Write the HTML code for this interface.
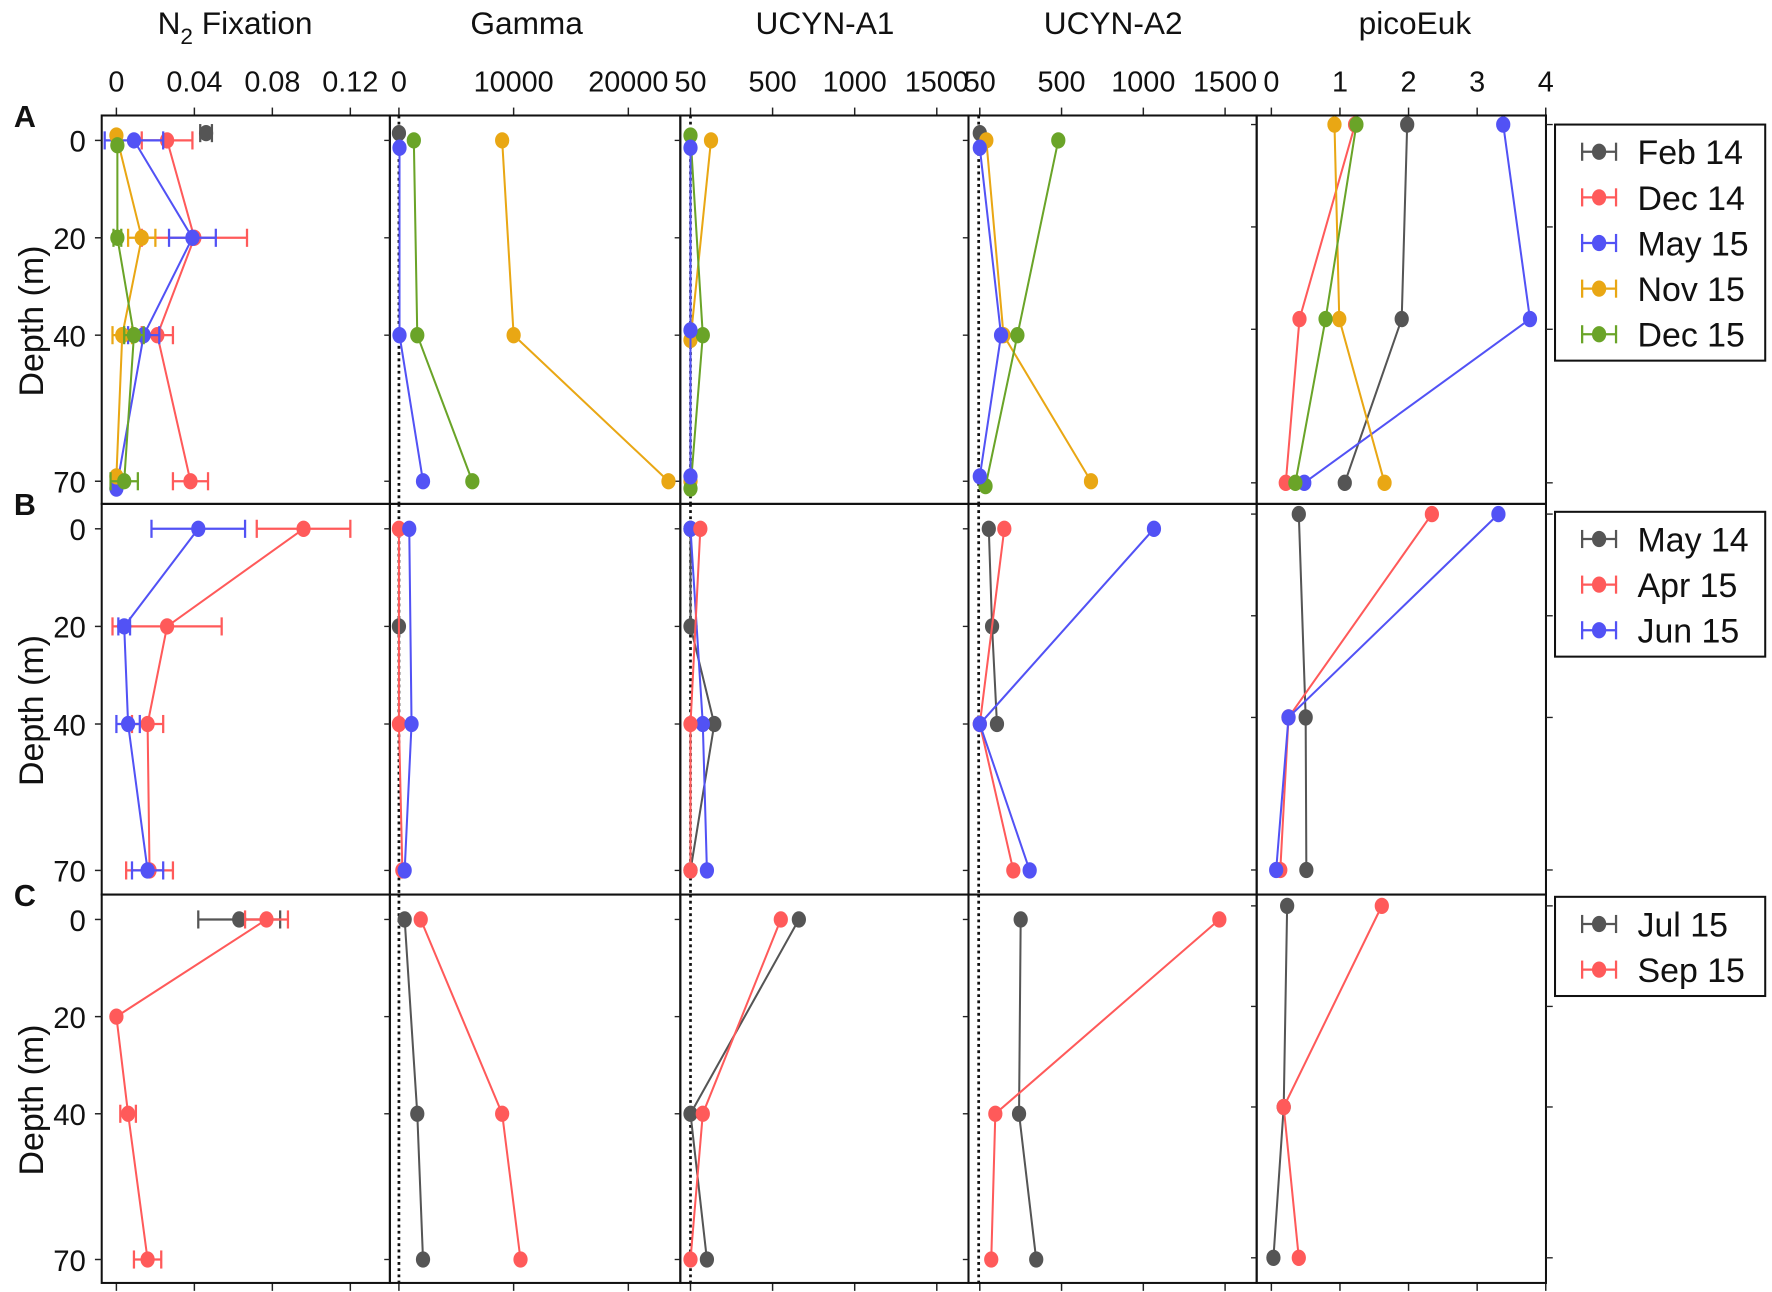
<!DOCTYPE html>
<html><head><meta charset="utf-8">
<style>
html,body{margin:0;padding:0;background:#fff;}
svg{display:block;}
text{font-family:"Liberation Sans",Arial,sans-serif;fill:#111;}
</style></head>
<body>
<svg id="chart" width="1772" height="1292" viewBox="0 0 1568 1141" preserveAspectRatio="none" xmlns="http://www.w3.org/2000/svg">
<g id="layer"></g>
</svg>
<script>
// ---------- data ----------
const colTitles = ['N2 Fixation','Gamma','UCYN-A1','UCYN-A2','picoEuk'];
const n2Ticks = [0,0.04,0.08,0.12];
const gammaTicks = [0,10000,20000];
const a1Ticks = [0,500,1000,1500];
const a1TickLabels = ['50','500','1000','1500'];
const a2Ticks = [0,500,1000,1500];
const a2TickLabels = ['50','500','1000','1500'];
const picoTicks = [0,1,2,3,4];
const depthTicks = [0,20,40,70];

const rowALegend = ['Feb 14','Dec 14','May 15','Nov 15','Dec 15'];
const rowBLegend = ['May 14','Apr 15','Jun 15'];
const rowCLegend = ['Jul 15','Sep 15'];

// each series: [depth, value, error]
// Row A
const A_n2_Feb14=[[-1.5,0.046,0.003]];
const A_n2_Dec14=[[0,0.026,0.013],[20,0.040,0.027],[40,0.021,0.008],[70,0.038,0.009]];
const A_n2_May15=[[0,0.009,0.015],[20,0.039,0.012],[40,0.014,0.008],[71.5,0.0,0]];
const A_n2_Nov15=[[-1,0.0,0],[20,0.013,0.007],[40,0.003,0.005],[69,0.0,0]];
const A_n2_Dec15=[[1,0.0005,0],[20,0.0005,0.002],[40,0.009,0.005],[70,0.004,0.007]];
const A_gm_Feb14=[[-1.5,0]];
const A_gm_May15=[[1.5,50],[40,50],[70,2100]];
const A_gm_Nov15=[[0,9000],[40,10000],[70,23500]];
const A_gm_Dec15=[[0,1300],[40,1600],[70,6400]];
const A_a1_May15=[[1.5,0],[39,0],[69,0]];
const A_a1_Nov15=[[0,125],[41,0],[70,0]];
const A_a1_Dec15=[[-1,0],[40,75],[71.5,0]];
const A_a2_Feb14=[[-1.5,0]];
const A_a2_May15=[[1.5,0],[40,130],[69,0]];
const A_a2_Nov15=[[0,40],[40,145],[70,680]];
const A_a2_Dec15=[[0,480],[40,230],[71,35]];
const A_pe_Feb14=[[0,1.98],[38,1.9],[70,1.07]];
const A_pe_Dec14=[[0,1.22],[38,0.41],[70,0.21]];
const A_pe_May15=[[0,3.38],[38,3.77],[70,0.48]];
const A_pe_Nov15=[[0,0.92],[38,0.99],[70,1.65]];
const A_pe_Dec15=[[0,1.24],[38,0.79],[70,0.35]];
// Row B
const B_n2_Apr15=[[0,0.096,0.024],[20,0.026,0.028],[40,0.016,0.008],[70,0.017,0.012]];
const B_n2_Jun15=[[0,0.042,0.024],[20,0.004,0.003],[40,0.006,0.006],[70,0.016,0.008]];
const B_gm_May14=[[20,0]];
const B_gm_Apr15=[[0,0],[40,0],[70,300]];
const B_gm_Jun15=[[0,900],[40,1100],[70,500]];
const B_a1_May14=[[0,0],[20,0],[40,145],[70,0]];
const B_a1_Apr15=[[0,60],[40,0],[70,0]];
const B_a1_Jun15=[[0,0],[40,75],[70,100]];
const B_a2_May14=[[0,55],[20,75],[40,105]];
const B_a2_Apr15=[[0,150],[40,0],[70,205]];
const B_a2_Jun15=[[0,1065],[40,0],[70,305]];
const B_pe_May14=[[0,0.4],[40,0.5],[70,0.51]];
const B_pe_Apr15=[[0,2.34],[40,0.25],[70,0.13]];
const B_pe_Jun15=[[0,3.31],[40,0.25],[70,0.07]];
// Row C
const C_n2_Jul15=[[0,0.063,0.021]];
const C_n2_Sep15=[[0,0.077,0.011],[20,0.0,0],[40,0.006,0.004],[70,0.016,0.007]];
const C_gm_Jul15=[[0,500],[40,1600],[70,2100]];
const C_gm_Sep15=[[0,1900],[40,9000],[70,10600]];
const C_a1_Jul15=[[0,660],[40,0],[70,100]];
const C_a1_Sep15=[[0,550],[40,75],[70,0]];
const C_a2_Jul15=[[0,250],[40,240],[70,345]];
const C_a2_Sep15=[[0,1465],[40,95],[70,70]];
const C_pe_Jul15=[[0,0.23],[40,0.18],[70,0.03]];
const C_pe_Sep15=[[0,1.61],[40,0.18],[70,0.4]];

// ---------- layout ----------
const NS='http://www.w3.org/2000/svg';
const layer=document.getElementById('layer');
const GRAY='#555555',RED='#ff5a5a',BLUE='#5252f5',ORANGE='#e9a714',GREEN='#6aa428';
const colX=[90,345,602,857,1112,1368];
const rows=[{top:102,bot:445,y0:124,ppm:4.3,py0:110,pppm:4.52},
            {top:445,bot:790,y0:467,ppm:4.31,py0:454,pppm:4.49},
            {top:790,bot:1133,y0:812,ppm:4.29,py0:800,pppm:4.44}];
const xN2=v=>103+v*1725;
const xGm=v=>353+v*0.01015;
const xA1=v=>611+v*0.1453;
const xA2=v=>867+v*0.1447;
const xPe=v=>1125+v*60.7;

function el(tag,attrs,parent){const e=document.createElementNS(NS,tag);for(const k in attrs)e.setAttribute(k,attrs[k]);(parent||layer).appendChild(e);return e;}
function txt(s,x,y,size,anchor,extra){const t=el('text',Object.assign({x:x,y:y,'font-size':size,'text-anchor':anchor||'middle'},extra||{}));t.textContent=s;return t;}

// column titles
const titleX=[208,466,730,985,1252];
colTitles.forEach((c,i)=>{
  let t;
  if(i===0){
    t=el('text',{x:titleX[i],y:30,'font-size':28,'text-anchor':'middle'});
    const a=el('tspan',{},t);a.textContent='N';
    const b=el('tspan',{dy:9,'font-size':20},t);b.textContent='2';
    const c2=el('tspan',{dy:-9},t);c2.textContent=' Fixation';
  } else t=txt(c,titleX[i],30,28);
  
  
});

// x tick labels and ticks
function xAxis(ticks,labels,fx,name){
  ticks.forEach((v,i)=>{
    const t=txt(labels[i],fx(v),81,25.5);
    
    
    el('line',{x1:fx(v),x2:fx(v),y1:95,y2:102,stroke:'#222','stroke-width':1.3});
    el('line',{x1:fx(v),x2:fx(v),y1:1133,y2:1140,stroke:'#222','stroke-width':1.3});
  });
}
xAxis(n2Ticks,['0','0.04','0.08','0.12'],xN2,'n2-x');
xAxis(gammaTicks,['0','10000','20000'],xGm,'gamma-x');
xAxis(a1Ticks,a1TickLabels,xA1,'ucyn-a1-x');
xAxis(a2Ticks,a2TickLabels,xA2,'ucyn-a2-x');
xAxis(picoTicks,['0','1','2','3','4'],xPe,'picoeuk-x');

// panels
const letters=['A','B','C'];
rows.forEach((r,ri)=>{
  for(let c=0;c<5;c++){
    const p=el('rect',{x:colX[c],y:r.top,width:colX[c+1]-colX[c],height:r.bot-r.top,fill:'none',stroke:'#111','stroke-width':1.8});
    
    
  }
  [353,611,866].forEach(x=>el('line',{x1:x,x2:x,y1:r.top,y2:r.bot,stroke:'#111','stroke-width':2.4,'stroke-dasharray':'2.5,3'}));
  depthTicks.forEach(d=>{
    const y=r.y0+d*r.ppm;
    const t=txt(String(d),76,y+10,26,'end');
    
    
    el('line',{x1:84,x2:90,y1:y,y2:y,stroke:'#222','stroke-width':1.3});
    for(let c=1;c<4;c++) el('line',{x1:colX[c]-5,x2:colX[c],y1:y,y2:y,stroke:'#222','stroke-width':1.2});
    const py=r.py0+d*r.pppm;
    el('line',{x1:colX[4]-5,x2:colX[4],y1:py,y2:py,stroke:'#222','stroke-width':1.2});
    el('line',{x1:1368,x2:1374,y1:py,y2:py,stroke:'#222','stroke-width':1.2});
  });
  const L=txt(letters[ri],22,r.top+10,27,'middle',{'font-weight':'bold'});
  
  
  const cy=(r.top+r.bot)/2+10;
  const yt=txt('Depth (m)',0,0,30,'middle',{transform:'translate(38,'+cy+') rotate(-90)'});
  
  
});

function series(data,fx,row,color,name,pico){
  const r=rows[row];
  const fy=d=>pico?r.py0+d*r.pppm:r.y0+d*r.ppm;
  const g=el('g',{});
  
  
  if(data.length>1){
    el('polyline',{points:data.map(p=>fx(p[1])+','+fy(p[0])).join(' '),fill:'none',stroke:color,'stroke-width':1.8},g);
  }
  data.forEach(p=>{
    const x=fx(p[1]),y=fy(p[0]);
    if(p[2]){
      const x1=fx(p[1]-p[2]),x2=fx(p[1]+p[2]);
      el('line',{x1:x1,x2:x2,y1:y,y2:y,stroke:color,'stroke-width':2},g);
      el('line',{x1:x1,x2:x1,y1:y-8,y2:y+8,stroke:color,'stroke-width':2},g);
      el('line',{x1:x2,x2:x2,y1:y-8,y2:y+8,stroke:color,'stroke-width':2},g);
    }
    const m=el('ellipse',{cx:x,cy:y,rx:6.3,ry:7.2,fill:color},g);
    
    
  });
}
// Row A
series(A_n2_Feb14,xN2,0,GRAY,'a-n2-feb14');
series(A_n2_Dec14,xN2,0,RED,'a-n2-dec14');
series(A_n2_May15,xN2,0,BLUE,'a-n2-may15');
series(A_n2_Nov15,xN2,0,ORANGE,'a-n2-nov15');
series(A_n2_Dec15,xN2,0,GREEN,'a-n2-dec15');
series(A_gm_Feb14,xGm,0,GRAY,'a-gamma-feb14');
series(A_gm_Nov15,xGm,0,ORANGE,'a-gamma-nov15');
series(A_gm_Dec15,xGm,0,GREEN,'a-gamma-dec15');
series(A_gm_May15,xGm,0,BLUE,'a-gamma-may15');
series(A_a1_Nov15,xA1,0,ORANGE,'a-a1-nov15');
series(A_a1_Dec15,xA1,0,GREEN,'a-a1-dec15');
series(A_a1_May15,xA1,0,BLUE,'a-a1-may15');
series(A_a2_Feb14,xA2,0,GRAY,'a-a2-feb14');
series(A_a2_Nov15,xA2,0,ORANGE,'a-a2-nov15');
series(A_a2_Dec15,xA2,0,GREEN,'a-a2-dec15');
series(A_a2_May15,xA2,0,BLUE,'a-a2-may15');
series(A_pe_Feb14,xPe,0,GRAY,'a-pe-feb14',true);
series(A_pe_Dec14,xPe,0,RED,'a-pe-dec14',true);
series(A_pe_May15,xPe,0,BLUE,'a-pe-may15',true);
series(A_pe_Nov15,xPe,0,ORANGE,'a-pe-nov15',true);
series(A_pe_Dec15,xPe,0,GREEN,'a-pe-dec15',true);
// Row B
series(B_n2_Apr15,xN2,1,RED,'b-n2-apr15');
series(B_n2_Jun15,xN2,1,BLUE,'b-n2-jun15');
series(B_gm_May14,xGm,1,GRAY,'b-gamma-may14');
series(B_gm_Apr15,xGm,1,RED,'b-gamma-apr15');
series(B_gm_Jun15,xGm,1,BLUE,'b-gamma-jun15');
series(B_a1_May14,xA1,1,GRAY,'b-a1-may14');
series(B_a1_Jun15,xA1,1,BLUE,'b-a1-jun15');
series(B_a1_Apr15,xA1,1,RED,'b-a1-apr15');
series(B_a2_May14,xA2,1,GRAY,'b-a2-may14');
series(B_a2_Apr15,xA2,1,RED,'b-a2-apr15');
series(B_a2_Jun15,xA2,1,BLUE,'b-a2-jun15');
series(B_pe_May14,xPe,1,GRAY,'b-pe-may14',true);
series(B_pe_Apr15,xPe,1,RED,'b-pe-apr15',true);
series(B_pe_Jun15,xPe,1,BLUE,'b-pe-jun15',true);
// Row C
series(C_n2_Jul15,xN2,2,GRAY,'c-n2-jul15');
series(C_n2_Sep15,xN2,2,RED,'c-n2-sep15');
series(C_gm_Jul15,xGm,2,GRAY,'c-gamma-jul15');
series(C_gm_Sep15,xGm,2,RED,'c-gamma-sep15');
series(C_a1_Jul15,xA1,2,GRAY,'c-a1-jul15');
series(C_a1_Sep15,xA1,2,RED,'c-a1-sep15');
series(C_a2_Jul15,xA2,2,GRAY,'c-a2-jul15');
series(C_a2_Sep15,xA2,2,RED,'c-a2-sep15');
series(C_pe_Jul15,xPe,2,GRAY,'c-pe-jul15',true);
series(C_pe_Sep15,xPe,2,RED,'c-pe-sep15',true);

// legends
function legend(labels,colors,top,name){
  const h=labels.length*40.3+7;
  const g=el('g',{});
  
  
  el('rect',{x:1376,y:top,width:186,height:h,fill:'#fff',stroke:'#111','stroke-width':1.8},g);
  labels.forEach((l,i)=>{
    const y=top+24+i*40.3;
    const e=el('g',{},g);
    
    
    el('line',{x1:1400,x2:1430,y1:y,y2:y,stroke:colors[i],'stroke-width':2},e);
    el('line',{x1:1400,x2:1400,y1:y-8,y2:y+8,stroke:colors[i],'stroke-width':2},e);
    el('line',{x1:1430,x2:1430,y1:y-8,y2:y+8,stroke:colors[i],'stroke-width':2},e);
    el('ellipse',{cx:1415,cy:y,rx:6.3,ry:7.2,fill:colors[i]},e);
    const t=el('text',{x:1449,y:y+11,'font-size':30},e);t.textContent=l;
  });
}
legend(rowALegend,[GRAY,RED,BLUE,ORANGE,GREEN],110,'legend-a');
legend(rowBLegend,[GRAY,RED,BLUE],452,'legend-b');
legend(rowCLegend,[GRAY,RED],792,'legend-c');
</script>
</body></html>
